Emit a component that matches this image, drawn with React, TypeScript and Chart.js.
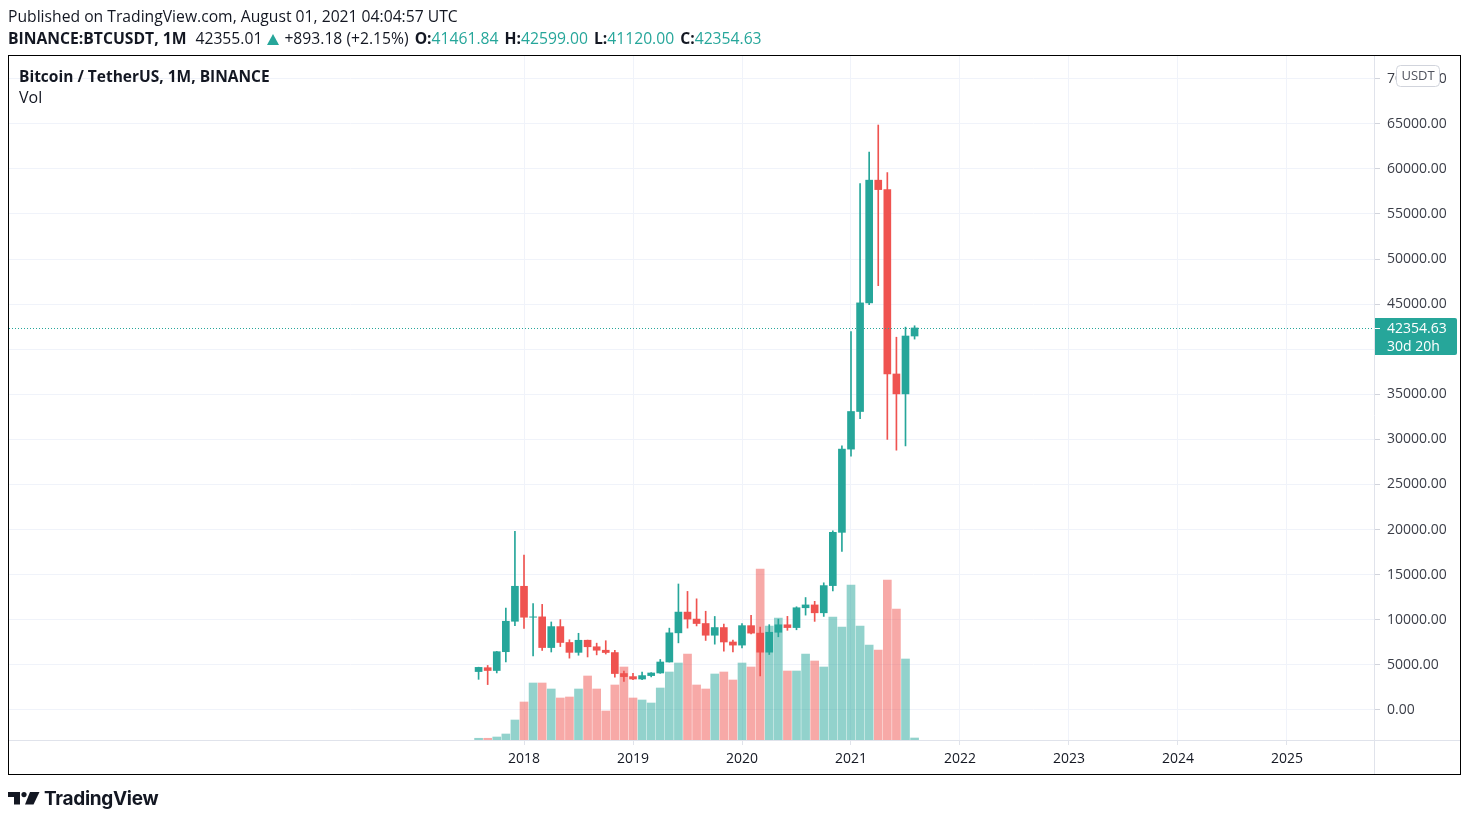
import React, { useEffect, useRef } from 'react';
import { Chart, registerables } from 'chart.js';

Chart.register(...registerables);

// ---------- DATA ----------
const months = [
  '2017-08', '2017-09', '2017-10', '2017-11', '2017-12',
  '2018-01', '2018-02', '2018-03', '2018-04', '2018-05', '2018-06', '2018-07', '2018-08', '2018-09', '2018-10', '2018-11', '2018-12',
  '2019-01', '2019-02', '2019-03', '2019-04', '2019-05', '2019-06', '2019-07', '2019-08', '2019-09', '2019-10', '2019-11', '2019-12',
  '2020-01', '2020-02', '2020-03', '2020-04', '2020-05', '2020-06', '2020-07', '2020-08', '2020-09', '2020-10', '2020-11', '2020-12',
  '2021-01', '2021-02', '2021-03', '2021-04', '2021-05', '2021-06', '2021-07', '2021-08',
];

const opens = [
  4261.48, 4689.89, 4378.49, 6463.0, 9837.0,
  13715.65, 10285.1, 10325.64, 6922.0, 9246.01, 7485.01, 6391.08, 7735.67, 7011.21, 6626.57, 6369.52, 4041.27,
  3701.23, 3434.1, 3814.26, 4102.44, 5321.94, 8555.0, 10854.1, 10080.53, 9588.74, 8289.97, 9140.86, 7540.63,
  7195.24, 9351.71, 8523.61, 6412.14, 8620.0, 9448.27, 9138.08, 11335.46, 11649.51, 10776.59, 13791.0, 19695.87,
  28923.63, 33092.97, 45134.11, 58739.46, 57697.25, 37254.24, 35045.0, 41461.84,
];

const highs = [
  4745.42, 4939.19, 6498.01, 11300.03, 19798.68,
  17176.24, 11786.01, 11710.0, 9759.82, 10020.0, 7786.69, 8506.0, 7750.0, 7410.0, 7680.0, 6615.15, 4312.99,
  4069.8, 4198.0, 4140.0, 5600.0, 9074.26, 13970.0, 13147.08, 12325.0, 10948.0, 10370.0, 9513.68, 7750.0,
  9578.0, 10500.0, 9188.0, 9460.0, 10067.0, 10380.0, 11444.0, 12468.0, 12050.85, 14100.0, 19863.16, 29300.0,
  41950.0, 58352.8, 61844.0, 64854.0, 59592.2, 41330.0, 42448.0, 42599.0,
];

const lows = [
  3400.0, 2817.0, 4110.0, 5325.01, 9350.0,
  9035.0, 6000.01, 6600.1, 6430.0, 7032.95, 5750.0, 6070.0, 5880.0, 6111.0, 6205.0, 3652.66, 3156.26,
  3349.92, 3373.1, 3670.69, 4067.0, 5316.2, 7444.58, 9080.0, 9320.0, 7710.0, 7300.0, 6515.0, 6435.0,
  6871.04, 8445.0, 3782.13, 6150.11, 8117.0, 8833.0, 8893.03, 10518.5, 9825.0, 10374.0, 13195.05, 17572.33,
  28130.0, 32296.16, 44950.53, 47044.01, 30000.0, 28805.0, 29278.0, 41120.0,
];

const closes = [
  4724.89, 4378.51, 6463.0, 9838.96, 13716.36,
  10285.1, 10326.5, 6923.91, 9246.01, 7485.01, 6390.07, 7730.93, 7011.21, 6626.57, 6371.93, 4041.32, 3702.9,
  3434.1, 3813.69, 4103.95, 5320.81, 8555.0, 10854.1, 10080.53, 9588.74, 8289.34, 9140.85, 7540.63, 7195.23,
  9352.89, 8523.61, 6410.44, 8620.0, 9448.27, 9138.55, 11335.46, 11649.51, 10776.59, 13791.0, 19695.87, 28923.63,
  33092.98, 45135.66, 58740.55, 57694.27, 37253.81, 35045.0, 41461.83, 42354.63,
];

// monthly volume (BTC)
const volumes = [
  24000, 24000, 42000, 84000, 280000,
  532000, 798000, 798000, 714000, 588000, 602000, 714000, 896000, 714000, 406000, 770000, 1022000,
  588000, 560000, 518000, 728000, 952000, 1078000, 1204000, 770000, 714000, 924000, 952000, 840000,
  1078000, 1022000, 2394000, 1596000, 1708000, 966000, 966000, 1204000, 1106000, 1022000, 1722000, 1582000,
  2170000, 1596000, 1330000, 1260000, 2240000, 1834000, 1134000, 28000,
];

const yearLabels = ['2018', '2019', '2020', '2021', '2022', '2023', '2024', '2025'];
const priceTicks = [0, 5000, 10000, 15000, 20000, 25000, 30000, 35000, 40000, 45000, 50000, 55000, 60000, 65000, 70000];

const headerTitle = 'Published on TradingView.com, August 01, 2021 04:04:57 UTC';
const symbolText = 'BINANCE:BTCUSDT, 1M';
const lastText = '42355.01';
const changeText = '+893.18 (+2.15%)';
const ohlcLabels = ['O:', 'H:', 'L:', 'C:'];
const ohlcValues = ['41461.84', '42599.00', '41120.00', '42354.63'];
const legendTitle = 'Bitcoin / TetherUS, 1M, BINANCE';
const countdownText = '30d 20h';
const currencyText = 'USDT';

// ---------- STYLE ----------
const UP = '#26a69a';
const DOWN = '#ef5350';
const UP_VOL = 'rgba(38,166,154,0.5)';
const DOWN_VOL = 'rgba(239,83,80,0.5)';
const FONT = "'Open Sans', 'Noto Sans', sans-serif";
const TEXT = '#131722';

const FIRST_YEAR = 2017;
const FIRST_MONTH = 8;
const X_MIN = -51.7;
const X_MAX = 98.69;
const Y_MIN = -3326;
const Y_MAX = 72506;

export default function App() {
  const canvasRef = useRef<HTMLCanvasElement | null>(null);

  useEffect(() => {
    document.body.style.margin = '0';
    const canvas = canvasRef.current;
    if (!canvas) return;
    const n = months.length;
    const up = months.map((_, i) => closes[i] >= opens[i]);
    const lastClose = closes[n - 1];
    const maxVol = Math.max(...volumes);

    const overlay = {
      id: 'tvOverlay',
      afterDraw(chart: any) {
        const { ctx, chartArea: ca, scales } = chart;
        const ys = scales.y;
        ctx.save();
        // axis separators
        ctx.strokeStyle = '#e0e3eb';
        ctx.lineWidth = 1;
        ctx.beginPath();
        ctx.moveTo(ca.left, ca.bottom + 0.5);
        ctx.lineTo(1461, ca.bottom + 0.5);
        ctx.moveTo(ca.right - 0.5, 56);
        ctx.lineTo(ca.right - 0.5, 775);
        ctx.stroke();

        // last price dotted line
        const py = Math.round(ys.getPixelForValue(lastClose)) + 0.5;
        ctx.strokeStyle = UP;
        ctx.setLineDash([1, 2]);
        ctx.beginPath();
        ctx.moveTo(ca.left, py);
        ctx.lineTo(ca.right - 1, py);
        ctx.stroke();
        ctx.setLineDash([]);

        // last price label
        const bx = ca.right;
        const by = py - 10.5;
        const bw = 82;
        const bh = 37;
        ctx.fillStyle = UP;
        ctx.beginPath();
        ctx.moveTo(bx, by);
        ctx.lineTo(bx + bw - 2, by);
        ctx.quadraticCurveTo(bx + bw, by, bx + bw, by + 2);
        ctx.lineTo(bx + bw, by + bh - 2);
        ctx.quadraticCurveTo(bx + bw, by + bh, bx + bw - 2, by + bh);
        ctx.lineTo(bx, by + bh);
        ctx.closePath();
        ctx.fill();
        ctx.strokeStyle = '#ffffff';
        ctx.beginPath();
        ctx.moveTo(bx, py);
        ctx.lineTo(bx + 5, py);
        ctx.stroke();
        ctx.fillStyle = '#ffffff';
        ctx.font = `14px ${FONT}`;
        ctx.textBaseline = 'middle';
        ctx.textAlign = 'left';
        ctx.fillText(lastClose.toFixed(2), bx + 12, py + 0.5);
        ctx.fillText(countdownText, bx + 12, py + 18.5);

        // currency badge
        const ux = 1396.5;
        const uy = 65.5;
        const uw = 43;
        const uh = 21;
        const r = 4;
        ctx.fillStyle = '#ffffff';
        ctx.strokeStyle = '#d1d4dc';
        ctx.beginPath();
        ctx.moveTo(ux + r, uy);
        ctx.lineTo(ux + uw - r, uy);
        ctx.quadraticCurveTo(ux + uw, uy, ux + uw, uy + r);
        ctx.lineTo(ux + uw, uy + uh - r);
        ctx.quadraticCurveTo(ux + uw, uy + uh, ux + uw - r, uy + uh);
        ctx.lineTo(ux + r, uy + uh);
        ctx.quadraticCurveTo(ux, uy + uh, ux, uy + uh - r);
        ctx.lineTo(ux, uy + r);
        ctx.quadraticCurveTo(ux, uy, ux + r, uy);
        ctx.closePath();
        ctx.fill();
        ctx.stroke();
        ctx.fillStyle = '#50535e';
        ctx.font = `13px ${FONT}`;
        ctx.textAlign = 'center';
        ctx.fillText(currencyText, ux + uw / 2, uy + uh / 2 + 0.5);

        // outer border
        ctx.strokeStyle = '#000000';
        ctx.lineWidth = 1;
        ctx.strokeRect(8.5, 55.5, 1452, 719);
        ctx.restore();
      },
    };

    const chart = new Chart(canvas, {
      type: 'bar',
      data: {
        datasets: [
          {
            label: 'Volume',
            yAxisID: 'yv',
            data: volumes.map((v, i) => ({ x: i, y: v })),
            backgroundColor: up.map((u) => (u ? UP_VOL : DOWN_VOL)),
            barThickness: 8,
            grouped: false,
            borderWidth: 0,
            order: 3,
          } as any,
          {
            label: 'Wick',
            yAxisID: 'y',
            data: lows.map((l, i) => ({ x: i, y: [l, highs[i]] })),
            backgroundColor: up.map((u) => (u ? UP : DOWN)),
            barThickness: 1,
            grouped: false,
            borderWidth: 0,
            order: 2,
          } as any,
          {
            label: 'Body',
            yAxisID: 'y',
            data: opens.map((o, i) => ({ x: i, y: [o, closes[i]] })),
            backgroundColor: up.map((u) => (u ? UP : DOWN)),
            barThickness: 7,
            grouped: false,
            borderWidth: 0,
            order: 1,
          } as any,
        ],
      },
      options: {
        responsive: false,
        animation: false,
        devicePixelRatio: 1,
        events: [],
        layout: { padding: { left: 9, top: 56, right: 8, bottom: 47 }, autoPadding: false } as any,
        plugins: { legend: { display: false }, tooltip: { enabled: false } },
        scales: {
          x: {
            type: 'linear',
            min: X_MIN,
            max: X_MAX,
            offset: false,
            afterBuildTicks: (s: any) => {
              s.ticks = yearLabels.map((y) => ({ value: (Number(y) - FIRST_YEAR) * 12 + (1 - FIRST_MONTH) }));
            },
            afterFit: (s: any) => {
              s.height = 35;
            },
            grid: { color: '#f0f3fa', tickColor: '#e0e3eb', tickLength: 5, offset: false },
            border: { display: false },
            ticks: {
              autoSkip: false,
              maxRotation: 0,
              padding: 6,
              color: TEXT,
              font: { family: FONT, size: 14 },
              callback: (v: any) => {
                const idx = Math.round((Number(v) + FIRST_MONTH - 1) / 12) - 1;
                return yearLabels[idx] ?? '';
              },
            },
          },
          y: {
            type: 'linear',
            position: 'right',
            min: Y_MIN,
            max: Y_MAX,
            afterBuildTicks: (s: any) => {
              s.ticks = priceTicks.map((v) => ({ value: v }));
            },
            afterFit: (s: any) => {
              s.width = 87;
            },
            grid: { color: '#f0f3fa', tickColor: '#d1d4dc', tickLength: 5 },
            border: { display: false },
            ticks: {
              padding: 7,
              color: '#3b3e48',
              font: { family: FONT, size: 14 },
              callback: (v: any) => Number(v).toFixed(2),
            },
          },
          yv: {
            type: 'linear',
            display: false,
            min: 0,
            max: maxVol * 4,
          },
        },
      } as any,
      plugins: [overlay],
    });

    return () => chart.destroy();
  }, []);

  const line: React.CSSProperties = {
    position: 'absolute',
    left: 8,
    fontSize: 15.7,
    lineHeight: '20px',
    color: TEXT,
    whiteSpace: 'nowrap',
    fontFamily: FONT,
  };

  return (
    <div style={{ position: 'relative', width: 1470, height: 822, background: '#ffffff', fontFamily: FONT, overflow: 'hidden' }}>
      <canvas ref={canvasRef} width={1470} height={822} style={{ position: 'absolute', left: 0, top: 0, width: 1470, height: 822 }} />
      <div style={{ ...line, top: 6 }}>{headerTitle}</div>
      <div style={{ ...line, top: 28 }}>
        <span style={{ fontWeight: 700 }}>{symbolText}</span>
        <span style={{ marginLeft: 9 }}>{lastText}</span>
        <svg width="12" height="11" viewBox="0 0 12 11" style={{ marginLeft: 5, marginRight: 5, verticalAlign: '-1px' }}>
          <polygon points="6,0 12,11 0,11" fill={UP} />
        </svg>
        <span>{changeText}</span>
        {ohlcLabels.map((l, i) => (
          <span key={l} style={{ marginLeft: 6 }}>
            <span style={{ fontWeight: 700 }}>{l}</span>
            <span style={{ color: UP }}>{ohlcValues[i]}</span>
          </span>
        ))}
      </div>
      <div style={{ position: 'absolute', left: 19, top: 66, fontSize: 15.5, lineHeight: '20px', fontWeight: 700, color: TEXT, whiteSpace: 'nowrap' }}>
        {legendTitle}
      </div>
      <div style={{ position: 'absolute', left: 19, top: 87, fontSize: 16, lineHeight: '20px', color: TEXT, whiteSpace: 'nowrap' }}>Vol</div>
      <div style={{ position: 'absolute', left: 8, top: 786, height: 24, display: 'flex', alignItems: 'center' }}>
        <svg width="32" height="13" viewBox="0 0 32 13">
          <path d="M0 0 H12 V12.5 H6 V5 H0 Z" fill={TEXT} />
          <circle cx="16" cy="2.6" r="2.6" fill={TEXT} />
          <polygon points="22,0 31.5,0 25.5,12.5 17,12.5" fill={TEXT} />
        </svg>
        <span style={{ marginLeft: 4, fontFamily: "Inter, 'Open Sans', sans-serif", fontWeight: 700, fontSize: 19, color: TEXT, letterSpacing: '-0.3px' }}>
          TradingView
        </span>
      </div>
    </div>
  );
}
